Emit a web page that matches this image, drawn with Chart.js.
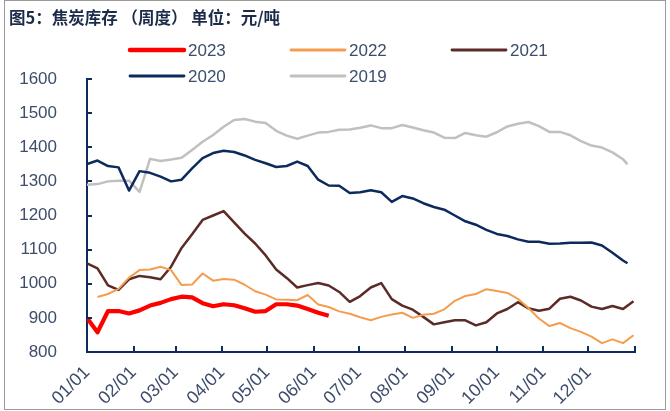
<!DOCTYPE html>
<html>
<head>
<meta charset="utf-8">
<script src="https://cdn.jsdelivr.net/npm/chart.js@4/dist/chart.umd.min.js"></script>
<style>
  html, body { margin: 0; padding: 0; background: #ffffff; }
  #wrap { position: relative; width: 670px; height: 411px; }
  canvas { display: block; }
</style>
</head>
<body>
<div id="wrap"><canvas id="c" width="670" height="411"></canvas></div>
<script>
// ---- Data ----
const titleText = '图5：焦炭库存 （周度） 单位：元/吨';
const seriesNames = ['2023', '2022', '2021', '2020', '2019'];
const monthStartDays = [0, 31, 59, 90, 120, 151, 181, 212, 243, 273, 304, 334, 365];
const monthLabels = ['01/01','02/01','03/01','04/01','05/01','06/01','07/01','08/01','09/01','10/01','11/01','12/01',''];
const yTicks = [800, 900, 1000, 1100, 1200, 1300, 1400, 1500, 1600];
const weekDays = [0,7,14,21,28,35,42,49,56,63,70,77,84,91,98,105,112,119,126,133,140,147,154,161,168,175,182,189,196,203,210,217,224,231,238,245,252,259,266,273,280,287,294,301,308,315,322,329,336,343,350,357,364];

const v2023 = [900,858,920,920,913,922,936,944,955,962,960,943,934,940,937,928,918,920,940,940,936,926,915,906];
const v2022 = [null,961,970,985,1018,1040,1042,1050,1040,996,998,1030,1009,1014,1012,997,978,968,954,953,952,967,939,932,919,912,902,893,903,910,915,900,909,912,925,950,964,970,984,979,973,956,929,898,876,885,870,859,845,826,837,826,849];
const v2021 = [1060,1045,995,982,1013,1023,1019,1013,1050,1105,1145,1187,1200,1213,1180,1147,1118,1083,1042,1017,989,996,1002,995,976,947,964,989,1002,955,936,924,903,881,887,893,893,878,887,913,926,946,928,921,927,956,962,951,933,926,935,926,949];
const v2020 = [1351,1361,1345,1341,1273,1330,1325,1314,1300,1305,1338,1368,1383,1390,1386,1376,1363,1353,1342,1345,1358,1345,1305,1288,1287,1266,1268,1274,1268,1240,1257,1250,1236,1225,1217,1200,1183,1173,1158,1146,1140,1130,1123,1123,1117,1118,1120,1120,1121,1112,1091,1068,1060];
const v2019 = [1290,1292,1300,1302,1302,1269,1366,1360,1364,1369,1392,1416,1436,1460,1480,1483,1475,1471,1448,1434,1425,1434,1443,1445,1451,1452,1457,1464,1456,1456,1465,1458,1450,1443,1428,1427,1442,1435,1431,1444,1461,1469,1474,1462,1445,1445,1435,1418,1405,1399,1385,1365,1350];

// ---- Styles ----
const colors = ['#ff0000', '#f59d4f', '#5b2b28', '#0c2a5c', '#c0c0c0'];
const widths = [4.2, 2, 2.5, 2.5, 2.5];
const axisColor = '#0f2b5b';
const labelColor = '#3d4d6b';
const tickFont = { family: 'Liberation Sans, Arial, sans-serif', size: 17 };

function toPoints(vals, lastDay) {
  return weekDays.map((d, i) => ({ x: Math.min(d, lastDay), y: vals[i] === undefined ? null : vals[i] }));
}
const lastDays = [364, 364, 364, 360, 360];
const allValues = [v2023, v2022, v2021, v2020, v2019];
const datasets = allValues.map((vals, k) => ({
  label: seriesNames[k],
  data: toPoints(vals, lastDays[k]).filter(p => p.y !== null),
  borderColor: colors[k],
  backgroundColor: colors[k],
  borderWidth: widths[k],
  pointRadius: 0,
  tension: 0,
  fill: false,
  spanGaps: false,
  borderJoinStyle: 'round'
}));

const decor = {
  id: 'decor',
  beforeDraw(chart) {
    const ctx = chart.ctx;
    ctx.save();
    ctx.fillStyle = '#ffffff';
    ctx.fillRect(0, 0, chart.width, chart.height);
    ctx.restore();
  },
  afterDraw(chart) {
    const ctx = chart.ctx;
    const xs = chart.scales.x, ys = chart.scales.y;
    const area = chart.chartArea;
    ctx.save();
    // frame
    ctx.strokeStyle = '#9a9a9a';
    ctx.lineWidth = 1;
    ctx.strokeRect(4.5, 0.5, 661, 409);
    // title
    ctx.fillStyle = '#1c2b4a';
    ctx.font = 'bold 16.5px "Noto Sans CJK SC", sans-serif';
    ctx.textBaseline = 'middle';
    ctx.textAlign = 'left';
    ctx.fillText(titleText, 9, 18);
    // tick marks (inside)
    ctx.strokeStyle = axisColor;
    ctx.lineWidth = 2;
    ctx.beginPath();
    yTicks.forEach(v => {
      const y = Math.round(ys.getPixelForValue(v));
      ctx.moveTo(area.left, y);
      ctx.lineTo(area.left + 5, y);
    });
    monthStartDays.forEach(d => {
      const x = Math.round(xs.getPixelForValue(d));
      ctx.moveTo(x, area.bottom);
      ctx.lineTo(x, area.bottom - 6);
    });
    ctx.stroke();
    // legend
    const legendPos = [[130, 50], [291, 50], [452, 50], [130, 76], [291, 76]];
    ctx.font = '17px "Liberation Sans", Arial, sans-serif';
    ctx.textBaseline = 'middle';
    seriesNames.forEach((name, k) => {
      const [lx, ly] = legendPos[k];
      ctx.strokeStyle = colors[k];
      ctx.lineWidth = k === 0 ? 4.5 : 2.8;
      ctx.lineCap = 'round';
      ctx.beginPath();
      ctx.moveTo(lx, ly);
      ctx.lineTo(lx + 54, ly);
      ctx.stroke();
      ctx.fillStyle = labelColor;
      ctx.fillText(name, lx + 58, ly + 1);
    });
    ctx.restore();
  }
};

new Chart(document.getElementById('c'), {
  type: 'line',
  data: { datasets },
  options: {
    responsive: false,
    animation: false,
    events: [],
    layout: { padding: { left: 0, top: 79, right: 35, bottom: 0 } },
    plugins: { legend: { display: false }, title: { display: false }, tooltip: { enabled: false } },
    scales: {
      x: {
        type: 'linear',
        min: 0,
        max: 365,
        afterFit(scale) { scale.height = 59; },
        afterBuildTicks(scale) { scale.ticks = monthStartDays.map(v => ({ value: v })); },
        grid: { display: false, drawTicks: false },
        border: { display: true, color: axisColor, width: 2 },
        ticks: {
          autoSkip: false,
          maxRotation: 45,
          minRotation: 45,
          padding: 10,
          color: labelColor,
          font: { family: 'Liberation Sans, Arial, sans-serif', size: 18 },
          callback(value) {
            const idx = monthStartDays.indexOf(value);
            return idx >= 0 ? monthLabels[idx] : '';
          }
        }
      },
      y: {
        min: 800,
        max: 1600,
        afterFit(scale) { scale.width = 87; },
        afterBuildTicks(scale) { scale.ticks = yTicks.map(v => ({ value: v })); },
        grid: { display: false, drawTicks: false },
        border: { display: true, color: axisColor, width: 2 },
        ticks: { padding: 30, color: labelColor, font: tickFont, callback(value) { return String(value); } }
      }
    }
  },
  plugins: [decor]
});
</script>
</body>
</html>
